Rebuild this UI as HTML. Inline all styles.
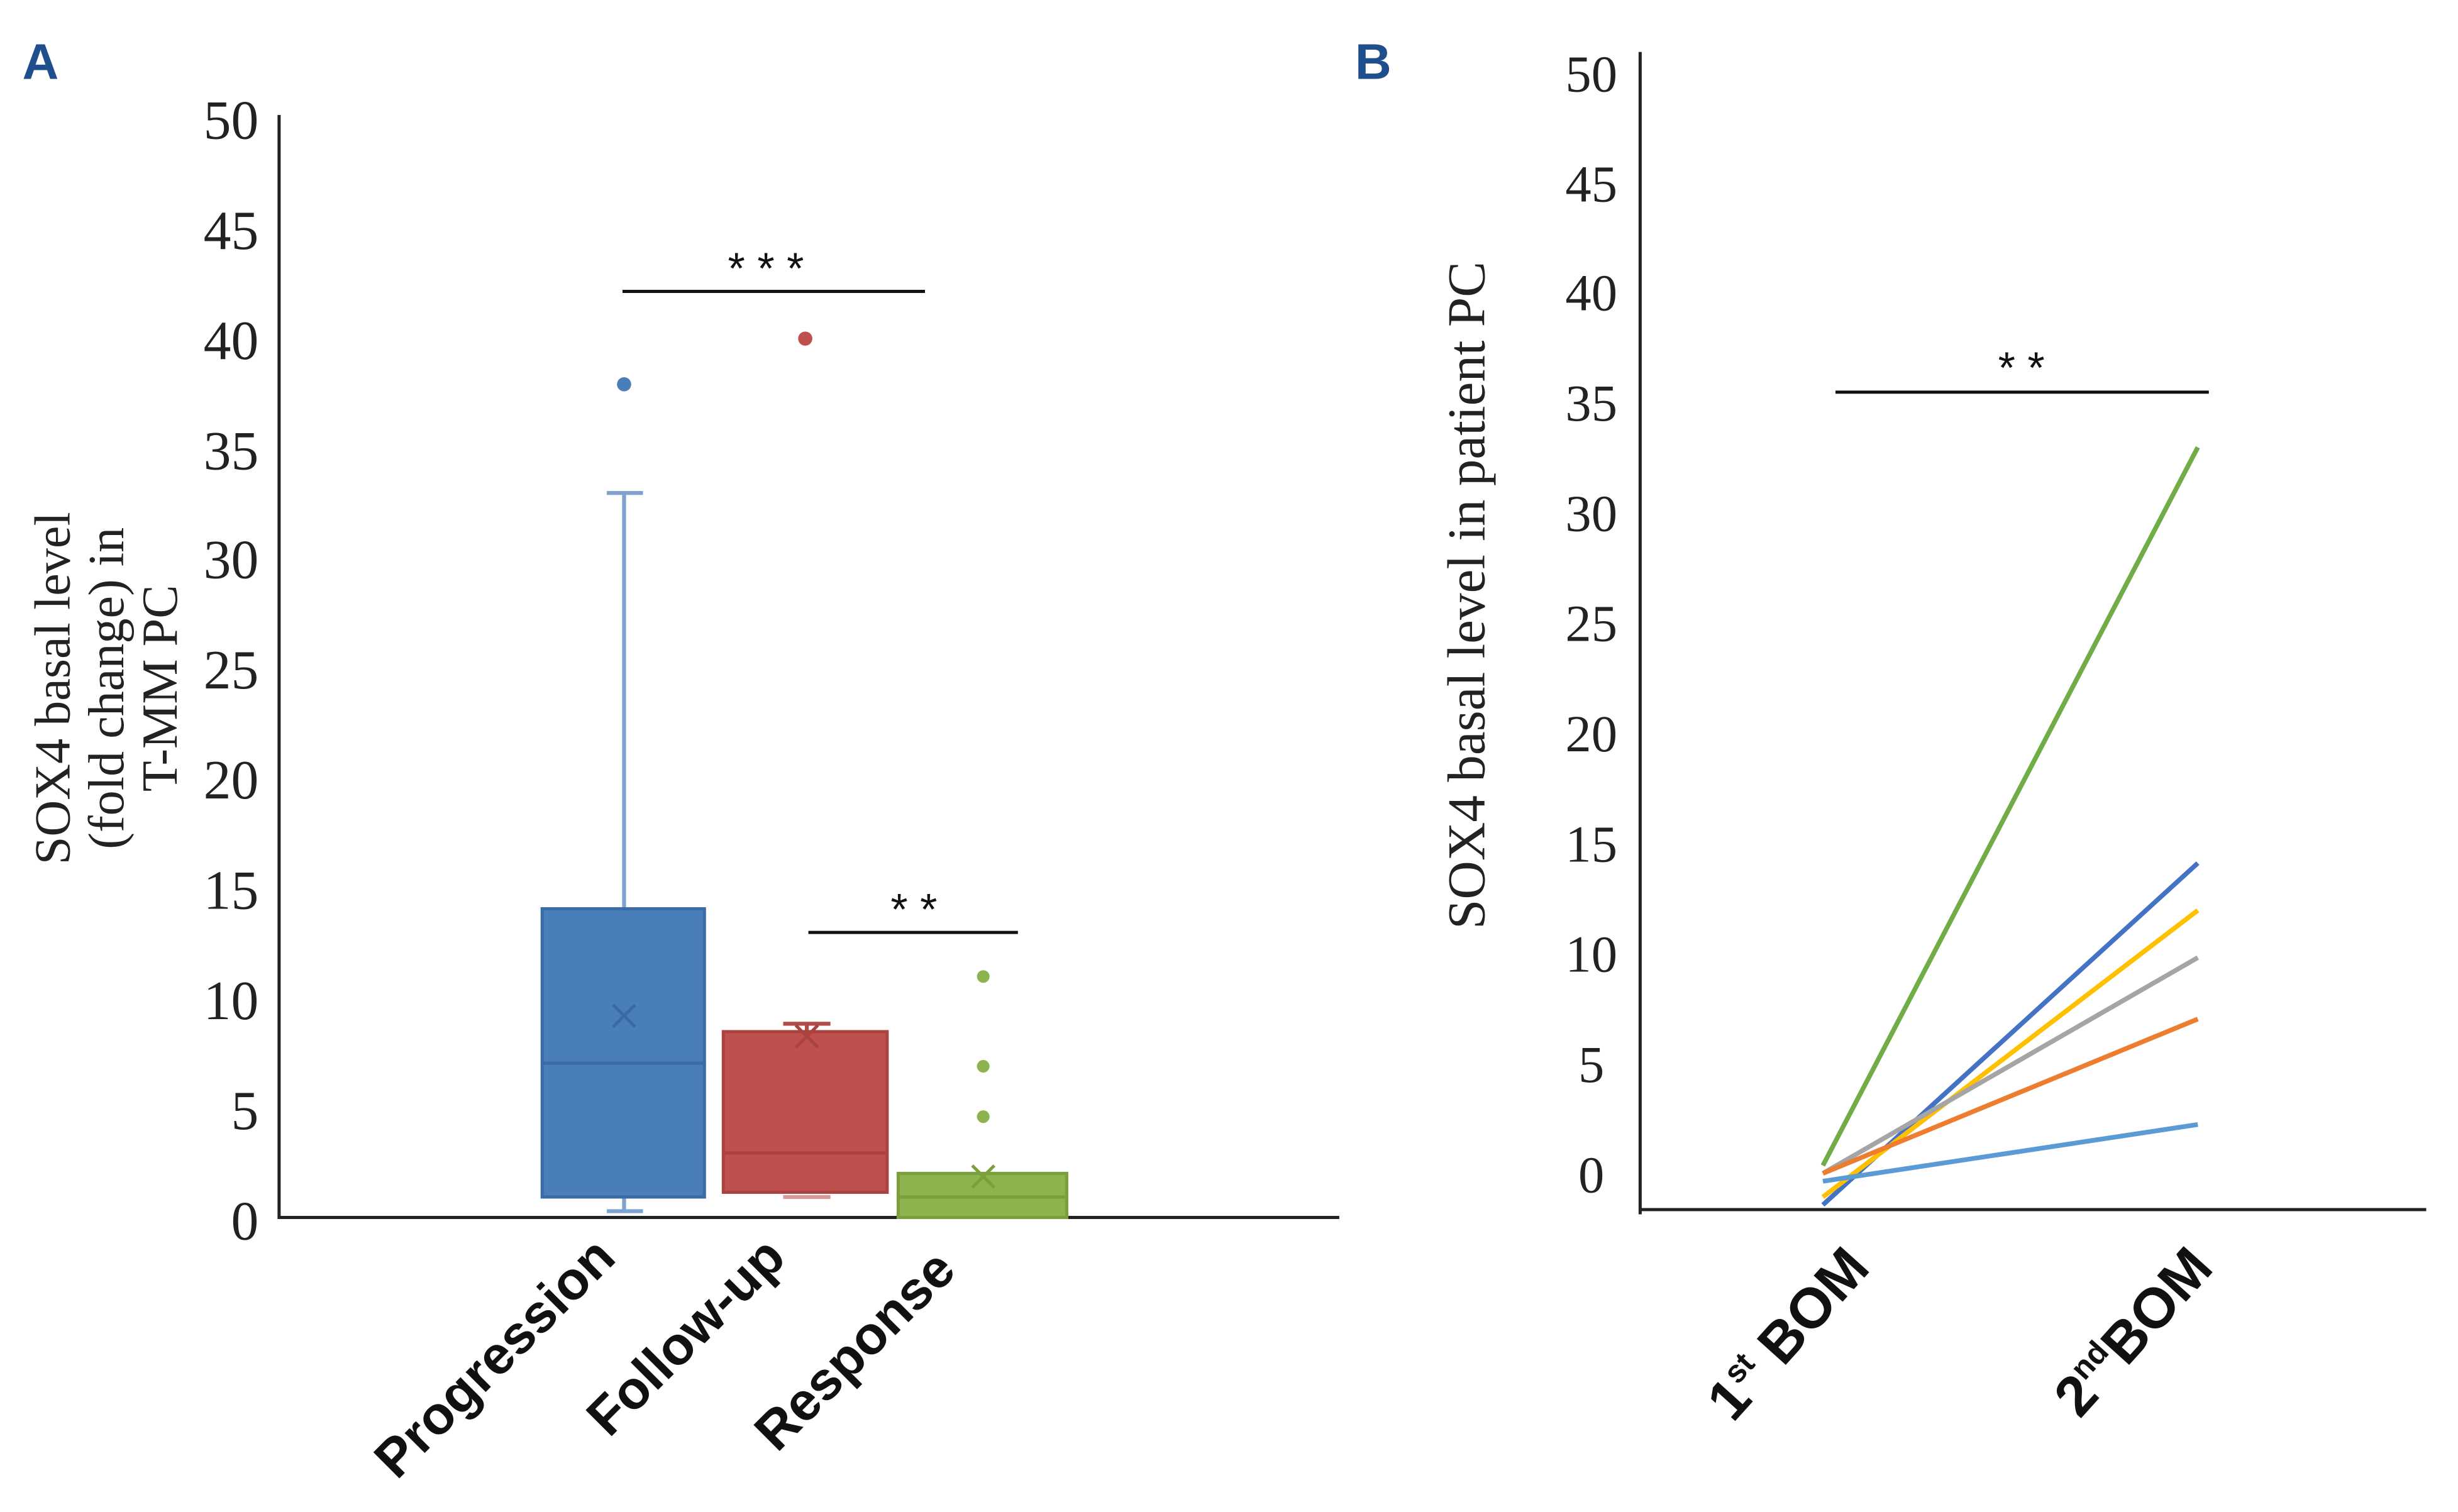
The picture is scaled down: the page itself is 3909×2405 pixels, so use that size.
<!DOCTYPE html>
<html><head><meta charset="utf-8"><style>
html,body{margin:0;padding:0;background:#fff;}
svg{display:block;}
.serif{font-family:"Liberation Serif",serif;}
.sans{font-family:"Liberation Sans",sans-serif;}
</style></head><body>
<svg width="3909" height="2405" viewBox="0 0 1560 960" xmlns="http://www.w3.org/2000/svg">
<rect width="1560" height="960" fill="#fff"/>
<text x="14" y="50" class="sans" font-size="32" font-weight="bold" fill="#1f4e8c">A</text>
<text x="860" y="50" class="sans" font-size="32" font-weight="bold" fill="#1f4e8c">B</text>

<!-- Panel A axes -->
<g stroke="#222" stroke-width="2" fill="none">
<line x1="177" y1="73" x2="177" y2="774"/>
<line x1="177" y1="773" x2="850" y2="773"/>
</g>
<g class="serif" font-size="35" fill="#222" text-anchor="end">
<text x="164" y="88">50</text>
<text x="164" y="158">45</text>
<text x="164" y="228">40</text>
<text x="164" y="298">35</text>
<text x="164" y="367">30</text>
<text x="164" y="437">25</text>
<text x="164" y="507">20</text>
<text x="164" y="577">15</text>
<text x="164" y="647">10</text>
<text x="164" y="717">5</text>
<text x="164" y="787">0</text>
</g>
<g class="serif" font-size="32" fill="#222" text-anchor="middle" transform="translate(67,437) rotate(-90)">
<text x="0" y="-23">SOX4 basal level</text>
<text x="0" y="11">(fold change) in</text>
<text x="0" y="45">T-MM PC</text>
</g>

<!-- Progression -->
<g stroke="#7fa3cf" stroke-width="2.5">
<line x1="396" y1="313" x2="396" y2="577"/>
<line x1="385" y1="313" x2="408" y2="313"/>
<line x1="396" y1="760" x2="396" y2="769"/>
<line x1="385" y1="769" x2="408" y2="769"/>
</g>
<rect x="344" y="577" width="103" height="183" fill="#4a7ebb" stroke="#3a6ba5" stroke-width="2"/>
<line x1="344" y1="675" x2="447" y2="675" stroke="#3a6ba5" stroke-width="2"/>
<g stroke="#3a6ba5" stroke-width="2"><line x1="389" y1="638" x2="403" y2="652"/><line x1="403" y1="638" x2="389" y2="652"/></g>
<circle cx="396" cy="244" r="4.5" fill="#4a7ebb"/>

<!-- Follow-up -->
<g stroke="#b34a47" stroke-width="2.5">
<line x1="512" y1="650" x2="512" y2="655"/>
<line x1="497" y1="650" x2="527" y2="650"/>
<line x1="497" y1="760" x2="527" y2="760" stroke="#d99a98"/>
</g>
<rect x="459" y="655" width="104" height="102" fill="#c0504d" stroke="#a94340" stroke-width="2"/>
<line x1="459" y1="732" x2="563" y2="732" stroke="#a94340" stroke-width="2"/>
<g stroke="#a94340" stroke-width="2"><line x1="505" y1="651" x2="519" y2="665"/><line x1="519" y1="651" x2="505" y2="665"/></g>
<circle cx="511" cy="215" r="4.5" fill="#c0504d"/>

<!-- Response -->
<rect x="570" y="745" width="107" height="28" fill="#8db24e" stroke="#7aa03e" stroke-width="2"/>
<line x1="570" y1="760" x2="677" y2="760" stroke="#7aa03e" stroke-width="2"/>
<g stroke="#7aa03e" stroke-width="2"><line x1="617" y1="740" x2="631" y2="754"/><line x1="631" y1="740" x2="617" y2="754"/></g>
<circle cx="624" cy="620" r="4" fill="#8db24e"/>
<circle cx="624" cy="677" r="4" fill="#8db24e"/>
<circle cx="624" cy="709" r="4" fill="#8db24e"/>

<line x1="395" y1="185" x2="587" y2="185" stroke="#111" stroke-width="2"/>
<text x="486" y="180" class="sans" font-size="28" text-anchor="middle" fill="#111">* * *</text>
<line x1="513" y1="592" x2="646" y2="592" stroke="#111" stroke-width="2"/>
<text x="580" y="587" class="sans" font-size="28" text-anchor="middle" fill="#111">* *</text>

<g class="sans" font-size="34" font-weight="bold" fill="#111" text-anchor="end">
<text transform="translate(392,800) rotate(-45)">Progression</text>
<text transform="translate(500,800) rotate(-45)">Follow-up</text>
<text transform="translate(608,808) rotate(-45)">Response</text>
</g>

<!-- Panel B axes -->
<g stroke="#222" stroke-width="2" fill="none">
<line x1="1041" y1="33" x2="1041" y2="771"/>
<line x1="1041" y1="768" x2="1540" y2="768"/>
</g>
<g class="serif" font-size="33" fill="#222" text-anchor="middle">
<text x="1010" y="58">50</text>
<text x="1010" y="128">45</text>
<text x="1010" y="197">40</text>
<text x="1010" y="267">35</text>
<text x="1010" y="337">30</text>
<text x="1010" y="407">25</text>
<text x="1010" y="477">20</text>
<text x="1010" y="547">15</text>
<text x="1010" y="617">10</text>
<text x="1010" y="687">5</text>
<text x="1010" y="757">0</text>
</g>
<text class="serif" font-size="34" fill="#222" text-anchor="middle" transform="translate(942,378) rotate(-90)">SOX4 basal level in patient PC</text>

<g stroke-width="3" fill="none">
<line x1="1157" y1="740" x2="1395" y2="284" stroke="#70ad47"/>
<line x1="1157" y1="765" x2="1395" y2="548" stroke="#4472c4"/>
<line x1="1157" y1="760" x2="1395" y2="578" stroke="#ffc000"/>
<line x1="1157" y1="745" x2="1395" y2="608" stroke="#a5a5a5"/>
<line x1="1157" y1="745" x2="1395" y2="647" stroke="#ed7d31"/>
<line x1="1157" y1="750" x2="1395" y2="714" stroke="#5b9bd5"/>
</g>

<line x1="1165" y1="249" x2="1402" y2="249" stroke="#111" stroke-width="2"/>
<text x="1283" y="243" class="sans" font-size="28" text-anchor="middle" fill="#111">* *</text>

<g class="sans" font-weight="bold" fill="#111" text-anchor="end">
<text transform="translate(1188,806) rotate(-48)" font-size="36">1<tspan font-size="20" dy="-14">st</tspan><tspan dy="14"> BOM</tspan></text>
<text transform="translate(1406,806) rotate(-48)" font-size="36">2<tspan font-size="20" dy="-14">nd</tspan><tspan dy="14">BOM</tspan></text>
</g>
</svg>
</body></html>
